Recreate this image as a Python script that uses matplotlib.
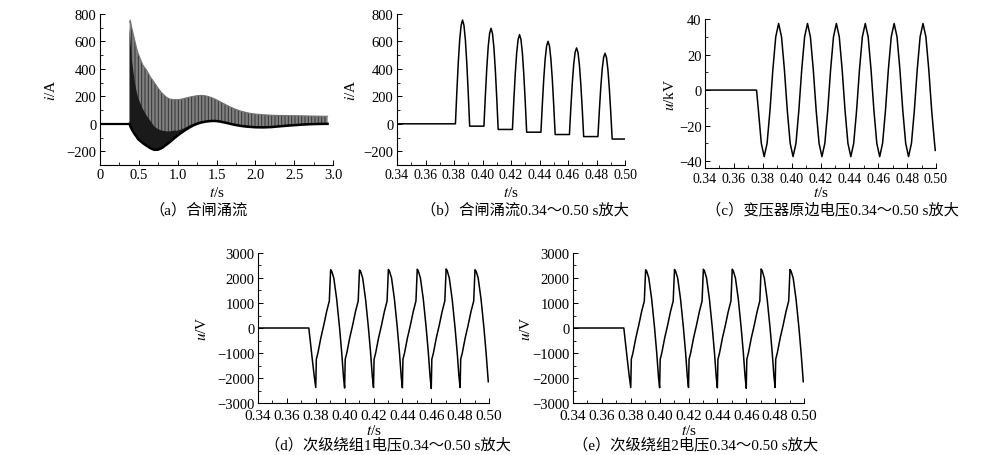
import matplotlib.pyplot as plt
import numpy as np
from matplotlib.ticker import MultipleLocator, FormatStrFormatter

plt.rcParams['font.family'] = ['Liberation Serif', 'Noto Sans CJK SC']
plt.rcParams['mathtext.fontset'] = 'stix'
plt.rcParams['xtick.direction'] = 'in'
plt.rcParams['ytick.direction'] = 'in'
plt.rcParams['hatch.linewidth'] = 0.7

# (a) inrush current 0-3 s : flat part + envelopes of the dense pulses
t_a_flat = [0.01, 0.381]
i_a_flat = [0, 0]
t_a = [0.381, 0.39, 0.41, 0.43, 0.45, 0.47, 0.49, 0.55, 0.60, 0.65, 0.70, 0.75,
       0.80, 0.86, 0.90, 0.95, 1.00, 1.05, 1.10, 1.15, 1.20, 1.25, 1.30, 1.35,
       1.40, 1.45, 1.50, 1.55, 1.60, 1.65, 1.70, 1.75, 1.80, 1.85, 1.90, 1.95,
       2.00, 2.10, 2.20, 2.30, 2.40, 2.50, 2.60, 2.70, 2.80, 2.93]
i_a_upper = [740, 756, 696, 650, 601, 553, 514, 430, 390, 340, 300, 258,
             222, 192, 180, 176, 176, 180, 187, 194, 200, 205, 207, 205,
             198, 188, 175, 160, 145, 130, 117, 105, 95, 87, 80, 75,
             71, 66, 63, 61, 60, 59, 58, 57, 56, 55]
i_a_lower = [0, -17, -41, -61, -78, -93, -111, -140, -160, -178, -190, -188,
             -175, -150, -132, -108, -85, -64, -45, -27, -12, 0, 9, 15,
             19, 21, 20, 16, 10, 4, -3, -9, -14, -18, -21, -23,
             -25, -26, -24, -19, -14, -10, -6, -3, -1, 0]
i_a_dark = [700, 620, 470, 380, 300, 240, 190, 110, 60, 20, -20, -40,
            -50, -55, -55, -50, -50, -40, -28, -12, 0, 10, 17, 22,
            25, 27, 26, 22, 16, 10, 3, -3, -8, -12, -15, -17,
            -19, -20, -18, -13, -8, -4, 0, 3, 5, 6]
a_xticks = [0, 0.5, 1.0, 1.5, 2.0, 2.5, 3.0]
a_xticklabels = ['0', '0.5', '1.0', '1.5', '2.0', '2.5', '3.0']

# (b) inrush current zoomed 0.34-0.50 s
t_b = [0.3402,
       0.381, 0.382, 0.383, 0.384, 0.385, 0.386, 0.387, 0.388, 0.389, 0.390, 0.391,
       0.401, 0.402, 0.403, 0.404, 0.405, 0.406, 0.407, 0.408, 0.409, 0.410, 0.411,
       0.421, 0.422, 0.423, 0.424, 0.425, 0.426, 0.427, 0.428, 0.429, 0.430, 0.431,
       0.441, 0.442, 0.443, 0.444, 0.445, 0.446, 0.447, 0.448, 0.449, 0.450, 0.451,
       0.461, 0.462, 0.463, 0.464, 0.465, 0.466, 0.467, 0.468, 0.469, 0.470, 0.471,
       0.481, 0.482, 0.483, 0.484, 0.485, 0.486, 0.487, 0.488, 0.489, 0.490, 0.491,
       0.4995]
i_b = [0,
       0, 234, 446, 612, 718, 756, 717, 609, 439, 223, -17,
       -17, 204, 404, 561, 660, 696, 659, 556, 394, 187, -41,
       -41, 173, 367, 519, 615, 650, 614, 515, 358, 159, -61,
       -61, 144, 330, 475, 568, 601, 567, 472, 323, 132, -78,
       -78, 118, 294, 433, 521, 553, 521, 430, 288, 107, -93,
       -93, 95, 265, 399, 484, 514, 483, 395, 258, 83, -111,
       -111]

# (c) primary voltage (kV), samples every 2 ms after switching
t_c = [0.3402, 0.3757] + list(np.arange(0.377, 0.5, 0.002)) + [0.4995]
u_c = [0, 0,
       -11.5, -30, -37.5, -30, -11.5, 11.5, 30, 37.5, 30, 11.5,
       -11.5, -30, -37.5, -30, -11.5, 11.5, 30, 37.5, 30, 11.5,
       -11.5, -30, -37.5, -30, -11.5, 11.5, 30, 37.5, 30, 11.5,
       -11.5, -30, -37.5, -30, -11.5, 11.5, 30, 37.5, 30, 11.5,
       -11.5, -30, -37.5, -30, -11.5, 11.5, 30, 37.5, 30, 11.5,
       -11.5, -30, -37.5, -30, -11.5, 11.5, 30, 37.5, 30, 11.5,
       -11.5, -30,
       -34]

# (d) secondary winding 1 voltage (V)
t_d = [0.3402, 0.3752, 0.3775, 0.3790,
       0.3800, 0.3804, 0.3815, 0.3835, 0.3855, 0.3875, 0.3894, 0.3903, 0.3910, 0.3925, 0.3945, 0.3965, 0.3980, 0.3992,
       0.4000, 0.4004, 0.4015, 0.4035, 0.4055, 0.4075, 0.4094, 0.4103, 0.4110, 0.4125, 0.4145, 0.4165, 0.4180, 0.4192,
       0.4200, 0.4204, 0.4215, 0.4235, 0.4255, 0.4275, 0.4294, 0.4303, 0.4310, 0.4325, 0.4345, 0.4365, 0.4380, 0.4392,
       0.4400, 0.4404, 0.4415, 0.4435, 0.4455, 0.4475, 0.4494, 0.4503, 0.4510, 0.4525, 0.4545, 0.4565, 0.4580, 0.4592,
       0.4600, 0.4604, 0.4615, 0.4635, 0.4655, 0.4675, 0.4694, 0.4703, 0.4710, 0.4725, 0.4745, 0.4765, 0.4780, 0.4792,
       0.4800, 0.4804, 0.4815, 0.4835, 0.4855, 0.4875, 0.4894, 0.4903, 0.4910, 0.4925, 0.4945, 0.4965, 0.4980, 0.4995]
u_d = [0, 0, -1200, -1950,
       -2380, -1250, -1000, -400, 100, 650, 1080, 2330, 2280, 2000, 1150, 0, -1000, -1950,
       -2400, -1250, -1000, -400, 100, 650, 1080, 2320, 2270, 2000, 1150, 0, -1000, -1950,
       -2380, -1250, -1000, -400, 100, 650, 1080, 2340, 2280, 2000, 1150, 0, -1000, -1950,
       -2390, -1250, -1000, -400, 100, 650, 1080, 2350, 2290, 2000, 1150, 0, -1000, -1950,
       -2420, -1250, -1000, -400, 100, 650, 1080, 2360, 2300, 2000, 1150, 0, -1000, -1950,
       -2380, -1250, -1000, -400, 100, 650, 1080, 2330, 2280, 2000, 1150, 0, -1000, -2150]

# (e) secondary winding 2 voltage (V)
t_e = t_d
u_e = [0, 0, -1200, -1950,
       -2380, -1250, -1000, -400, 100, 650, 1080, 2330, 2280, 2000, 1150, 0, -1000, -1950,
       -2390, -1250, -1000, -400, 100, 650, 1080, 2340, 2280, 2000, 1150, 0, -1000, -1950,
       -2380, -1250, -1000, -400, 100, 650, 1080, 2350, 2290, 2000, 1150, 0, -1000, -1950,
       -2390, -1250, -1000, -400, 100, 650, 1080, 2350, 2290, 2000, 1150, 0, -1000, -1950,
       -2410, -1250, -1000, -400, 100, 650, 1080, 2360, 2300, 2000, 1150, 0, -1000, -1950,
       -2380, -1250, -1000, -400, 100, 650, 1080, 2340, 2280, 2000, 1150, 0, -1000, -2150]

captions = ['（a）合闸涌流', '（b）合闸涌流0.34～0.50 s放大', '（c）变压器原边电压0.34～0.50 s放大',
            '（d）次级绕组1电压0.34～0.50 s放大', '（e）次级绕组2电压0.34～0.50 s放大']


def style(ax, xsize, ysize=10.5):
    ax.spines['top'].set_visible(False)
    ax.spines['right'].set_visible(False)
    ax.spines['left'].set_linewidth(0.8)
    ax.spines['bottom'].set_linewidth(0.8)
    ax.tick_params(which='major', length=3.5, width=0.7, top=False, right=False, pad=2.5)
    ax.tick_params(which='minor', length=2, width=0.6, top=False, right=False)
    ax.tick_params(axis='x', labelsize=xsize)
    ax.tick_params(axis='y', labelsize=ysize)


fig = plt.figure(figsize=(10, 4.56), dpi=100)

# (a)
ax = fig.add_axes([0.100, 0.636, 0.233, 0.331])
ax.plot(t_a_flat, i_a_flat, color='black', lw=1.6)
ax.fill_between(t_a, i_a_lower, i_a_upper, facecolor='0.5', edgecolor='0.2', hatch='|||||', lw=0)
ax.fill_between(t_a, i_a_lower, i_a_dark, facecolor='0.1', lw=0)
ax.plot(t_a, i_a_upper, color='0.45', lw=0.8)
ax.plot(t_a, i_a_lower, color='black', lw=1.8)
ax.set_xlim(0, 3.0)
ax.set_ylim(-300, 800)
ax.set_xticks(a_xticks)
ax.set_xticklabels(a_xticklabels)
ax.xaxis.set_minor_locator(MultipleLocator(0.25))
ax.set_yticks([-200, 0, 200, 400, 600, 800])
ax.yaxis.set_minor_locator(MultipleLocator(100))
style(ax, 10.5)
ax.set_xlabel(r'$t$/s', fontsize=11)
ax.set_ylabel(r'$i$/A', fontsize=11)
ax.xaxis.set_label_coords(0.5, -0.13)
ax.yaxis.set_label_coords(-0.18, 0.5)

# (b)
ax = fig.add_axes([0.397, 0.636, 0.228, 0.331])
ax.plot(t_b, i_b, color='black', lw=1.1)
ax.set_xlim(0.34, 0.50)
ax.set_ylim(-300, 800)
ax.xaxis.set_major_locator(MultipleLocator(0.02))
ax.xaxis.set_minor_locator(MultipleLocator(0.01))
ax.xaxis.set_major_formatter(FormatStrFormatter('%.2f'))
ax.set_yticks([-200, 0, 200, 400, 600, 800])
ax.yaxis.set_minor_locator(MultipleLocator(100))
style(ax, 10)
ax.set_xlabel(r'$t$/s', fontsize=11)
ax.set_ylabel(r'$i$/A', fontsize=11)
ax.xaxis.set_label_coords(0.5, -0.13)
ax.yaxis.set_label_coords(-0.17, 0.5)

# (c)
ax = fig.add_axes([0.705, 0.629, 0.231, 0.327])
ax.plot(t_c, u_c, color='black', lw=1.1)
ax.set_xlim(0.34, 0.50)
ax.set_ylim(-44, 40)
ax.xaxis.set_major_locator(MultipleLocator(0.02))
ax.xaxis.set_minor_locator(MultipleLocator(0.01))
ax.xaxis.set_major_formatter(FormatStrFormatter('%.2f'))
ax.set_yticks([-40, -20, 0, 20, 40])
ax.yaxis.set_minor_locator(MultipleLocator(10))
style(ax, 10)
ax.set_xlabel(r'$t$/s', fontsize=11)
ax.set_ylabel(r'$u$/kV', fontsize=11)
ax.xaxis.set_label_coords(0.5, -0.11)
ax.yaxis.set_label_coords(-0.12, 0.5)

# (d), (e)
for left, tt, uu, ylx in [(0.258, t_d, u_d, -0.21), (0.573, t_e, u_e, -0.175)]:
    ax = fig.add_axes([left, 0.114, 0.231, 0.329])
    ax.plot(tt, uu, color='black', lw=1.1)
    ax.set_xlim(0.34, 0.50)
    ax.set_ylim(-3000, 3000)
    ax.xaxis.set_major_locator(MultipleLocator(0.02))
    ax.xaxis.set_minor_locator(MultipleLocator(0.01))
    ax.xaxis.set_major_formatter(FormatStrFormatter('%.2f'))
    ax.yaxis.set_major_locator(MultipleLocator(1000))
    ax.yaxis.set_minor_locator(MultipleLocator(500))
    style(ax, 11)
    ax.tick_params(axis='x', pad=4)
    ax.set_xlabel(r'$t$/s', fontsize=11)
    ax.set_ylabel(r'$u$/V', fontsize=11)
    ax.xaxis.set_label_coords(0.5, -0.13)
    ax.yaxis.set_label_coords(ylx, 0.5)

# captions
cap_pos = [(198, 210), (525, 210), (832, 210), (388, 445), (696, 445)]
for (cx, cy), txt in zip(cap_pos, captions):
    fig.text(cx / 1000, 1 - cy / 456, txt, ha='center', va='center', fontsize=11)

plt.savefig('out.png', dpi=100)
